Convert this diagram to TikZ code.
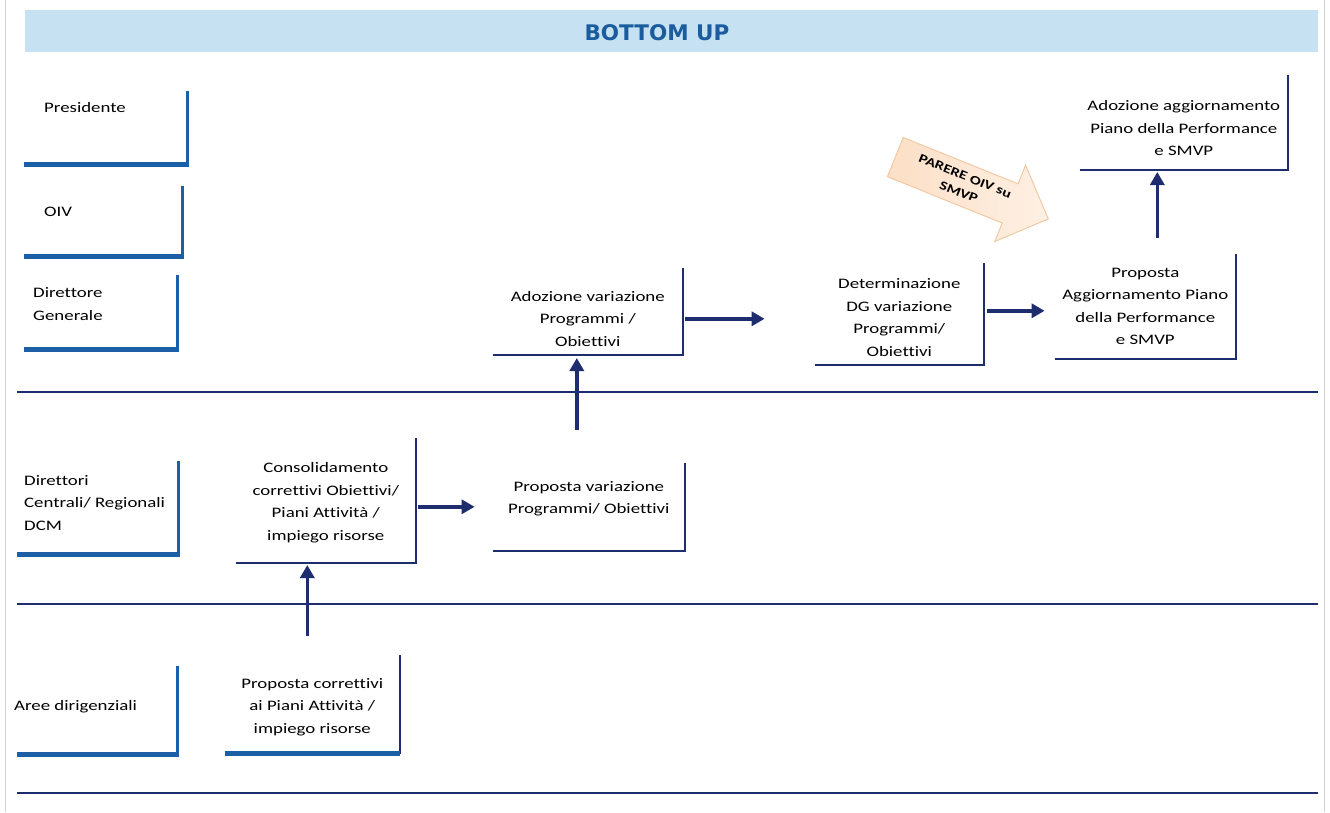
\documentclass[tikz,border=0pt]{standalone}
\usepackage{fontspec}
\setmainfont{Carlito}[FakeStretch=1.3, Ligatures=NoCommon]
\newfontfamily\titlefont{DejaVu Sans}
\usetikzlibrary{arrows.meta,shapes.arrows}
\definecolor{navy}{HTML}{1E2D6E}
\definecolor{lanecol}{HTML}{1B5FA6}
\definecolor{band}{HTML}{C6E2F2}
\definecolor{titleblue}{HTML}{1B5C9E}
\definecolor{peach}{HTML}{FCDFC6}
\definecolor{peachlight}{HTML}{FEF0E4}
\definecolor{peachedge}{HTML}{F3C9A4}
\tikzset{
	txt/.style={inner sep=0pt, font=\fontsize{14.5}{22.5}\selectfont},
	stage/.style={txt, align=center, anchor=south east},
	lane/.style={txt, align=left, anchor=west},
	boxline/.style={navy, line width=2.5pt},
	laneline/.style={lanecol, line width=3pt},
	lanebar/.style={lanecol, line width=5pt},
	flow/.style={navy, line width=3.5pt, -{Triangle[length=13pt,width=14pt]}},
	sep/.style={navy, line width=1.6pt}
}
\newcommand{\corner}[3]{\draw[boxline] (#1.south west) -- (#1.south east) -- ([yshift=#2]#1.north east); \draw[#3] (#1.south west) -- (#1.south east);}
\newcommand{\lanebox}[4]{\draw[lanebar] (#1,#4) -- (#2+1.5,#4); \draw[laneline] (#2,#4+2) -- (#2,#3);}
\begin{document}
\begin{tikzpicture}[x=1pt,y=-1pt]
	\useasboundingbox (0,0) rectangle (1330,812);
	\draw[gray!35, line width=1pt] (5,0) -- (5,812) (1324,0) -- (1324,812);
	\fill[band] (25,10) rectangle (1318,52);
	\node[text=titleblue, font=\titlefont\bfseries\fontsize{21.5}{24}\selectfont] (title) at (657,33) {BOTTOM UP};

	\draw[sep] (17,392) -- (1318,392);
	\draw[sep] (17,604) -- (1318,604);
	\draw[sep] (17,793) -- (1318,793);

	\lanebox{24}{187}{91}{164}
	\lanebox{24}{182}{186}{256}
	\lanebox{24}{177}{275}{349}
	\lanebox{17}{178}{461}{554}
	\lanebox{17}{177}{666}{754}
	\node[lane] (pres) at (44,108) {Presidente};
	\node[lane] (oiv) at (44,212) {OIV};
	\node[lane] (dg) at (33,304) {Direttore\\Generale};
	\node[lane] (dcr) at (24,503) {Direttori\\Centrali/ Regionali\\DCM};
	\node[lane] (aree) at (14,707) {Aree dirigenziali};

	\node[stage, minimum width=190pt, minimum height=72pt] (adoz) at (683,355) {Adozione variazione\\Programmi /\\Obiettivi};
	\node[stage, minimum width=169pt, minimum height=94pt] (det) at (984,365) {Determinazione\\DG variazione\\Programmi/\\Obiettivi};
	\node[stage, minimum width=181pt, minimum height=105pt] (propagg) at (1236,359) {Proposta\\Aggiornamento Piano\\della Performance\\e SMVP};
	\node[stage, minimum width=208pt, minimum height=83pt] (adozagg) at (1288,170) {Adozione aggiornamento\\Piano della Performance\\e SMVP};
	\node[stage, minimum width=180pt, minimum height=120pt] (cons) at (416,563) {Consolidamento\\correttivi Obiettivi/\\Piani Attività /\\impiego risorse};
	\node[stage, minimum width=192pt, minimum height=104pt] (propvar) at (685,551) {Proposta variazione\\Programmi/ Obiettivi};
	\node[stage, minimum width=175pt, minimum height=92pt] (propcorr) at (400,753) {Proposta correttivi\\ai Piani Attività /\\impiego risorse};
	\corner{adoz}{15pt}{boxline}
	\corner{det}{8pt}{boxline}
	\corner{propagg}{0pt}{boxline}
	\corner{adozagg}{12pt}{boxline}
	\corner{cons}{5pt}{boxline}
	\corner{propvar}{-16pt}{boxline}
	\corner{propcorr}{6pt}{lanebar}

	\draw[flow, shorten <=2pt, shorten >=50pt] (adoz.east) -- (adoz.east -| det.west);
	\draw[flow, shorten <=3pt, shorten >=10pt] ([yshift=7pt]det.east) -- ([yshift=7pt]det.east -| propagg.west);
	\draw[flow, shorten <=16pt, shorten >=2pt] ([xshift=12pt]propagg.north) -- ([xshift=12pt]propagg.north |- adozagg.south);
	\draw[flow, shorten <=17pt, shorten >=3pt] ([xshift=-12pt]propvar.north) -- ([xshift=-12pt]propvar.north |- adoz.south);
	\draw[flow, shorten <=2pt, shorten >=18pt] ([yshift=-8pt]propvar.west -| cons.east) -- ([yshift=-8pt]propvar.west);
	\draw[flow, shorten <=25pt, shorten >=2pt] ([xshift=-5pt]propcorr.north) -- ([xshift=-5pt]propcorr.north |- cons.south);

	\node[single arrow, draw=peachedge, left color=peach, right color=peachlight, line width=1pt, rotate=-22,
		minimum height=165pt, inner ysep=8pt, single arrow head extend=20pt,
		align=center, font=\bfseries\fontsize{12.5}{17}\selectfont] (parere) at (962,184) {PARERE OIV su\\SMVP};
\end{tikzpicture}
\end{document}
